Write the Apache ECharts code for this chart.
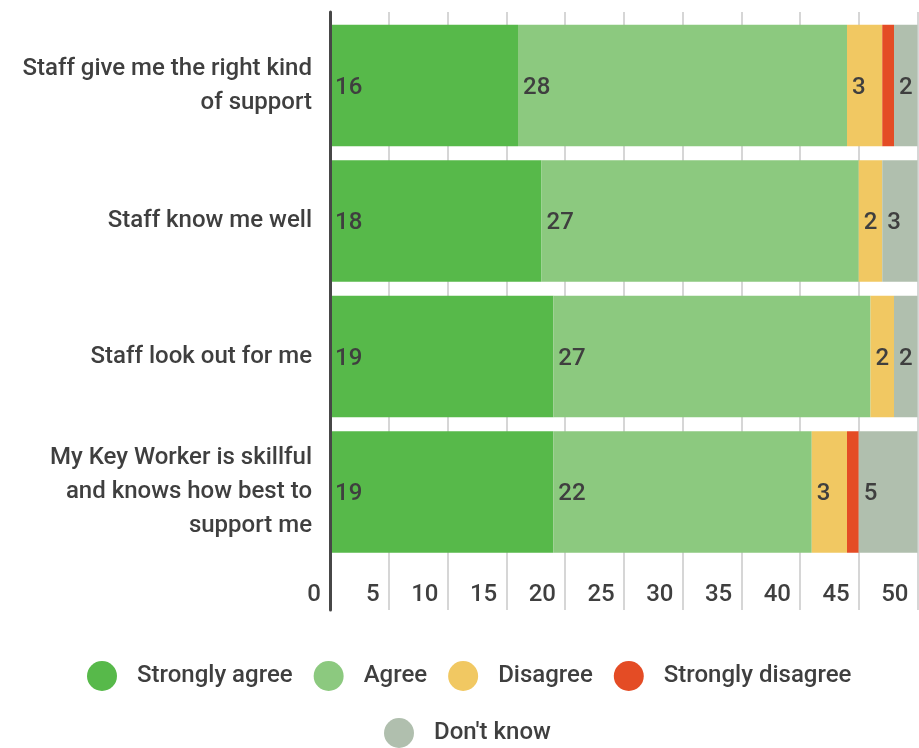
<!DOCTYPE html>
<html>
<head>
<meta charset="utf-8">
<script src="https://cdn.jsdelivr.net/npm/echarts@6/dist/echarts.min.js"></script>
<style>
  html, body { margin: 0; padding: 0; background: #fff; }
  #chart { width: 919px; height: 748px; }
</style>
</head>
<body>
<div id="chart"></div>
<script>
// Survey statements (top to bottom)
var categories = [
  'Staff give me the right kind\nof support',
  'Staff know me well',
  'Staff look out for me',
  'My Key Worker is skillful\nand knows how best to\nsupport me'
];

// Response counts per statement
var strongAgree    = [16, 18, 19, 19];
var agree          = [28, 27, 27, 22];
var disagree       = [3, 2, 2, 3];
var strongDisagree = [1, 0, 0, 1];
var dontKnow       = [2, 3, 2, 5];

// Value axis ticks
var axisTicks = [0, 5, 10, 15, 20, 25, 30, 35, 40, 45, 50];

var seriesNames  = ['Strongly agree', 'Agree', 'Disagree', 'Strongly disagree', "Don't know"];
var seriesColors = ['#57b94a', '#8cc97f', '#f1c862', '#e44c25', '#b0bfae'];
var seriesData   = [strongAgree, agree, disagree, strongDisagree, dontKnow];
var showLabel    = [true, true, true, false, true];

var FONT = 'Roboto, "Noto Sans", sans-serif';
var TEXT = '#3f3f3f';
var SIZE = 24;

var chart = echarts.init(document.getElementById('chart'), null, { renderer: 'canvas' });

var series = seriesNames.map(function (name, i) {
  return {
    name: name,
    type: 'bar',
    stack: 'total',
    xAxisIndex: 0,
    yAxisIndex: 0,
    barCategoryGap: '10.4%',
    itemStyle: { color: seriesColors[i] },
    label: {
      show: showLabel[i],
      position: 'insideLeft',
      distance: 5,
      offset: [0, 2],
      color: TEXT,
      fontFamily: FONT,
      fontWeight: 500,
      fontSize: SIZE
    },
    emphasis: { disabled: true },
    data: seriesData[i]
  };
});

var tickMin = axisTicks[0];
var tickMax = axisTicks[axisTicks.length - 1];
var tickStep = axisTicks[1] - axisTicks[0];

var legendText = {
  color: TEXT,
  fontFamily: FONT,
  fontWeight: 500,
  fontSize: SIZE,
  padding: [0, 0, 0, 15]
};

var option = {
  animation: false,
  backgroundColor: '#ffffff',
  grid: [
    // bars
    { left: 330, right: 1.5, top: 17.75, height: 542, containLabel: false },
    // frame: gridlines, tick labels and the vertical axis line
    { left: 330, right: 1.5, top: 12, bottom: 138, containLabel: false }
  ],
  xAxis: [
    {
      gridIndex: 0, type: 'value', min: tickMin, max: tickMax, interval: tickStep,
      show: false
    },
    {
      gridIndex: 1, type: 'value', min: tickMin, max: tickMax, interval: tickStep,
      axisLine: { show: false },
      axisTick: { show: false },
      splitLine: { show: true, lineStyle: { color: '#d6d6d6', width: 2 } },
      axisLabel: {
        inside: true,
        margin: 3,
        align: 'right',
        padding: [0, 9, 0, 0],
        color: TEXT,
        fontFamily: FONT,
        fontWeight: 500,
        fontSize: SIZE,
        showMinLabel: true,
        showMaxLabel: true
      }
    }
  ],
  yAxis: [
    {
      gridIndex: 0, type: 'category', inverse: true, data: categories,
      axisLine: { show: false },
      axisTick: { show: false },
      splitLine: { show: false },
      axisLabel: {
        margin: 18,
        align: 'right',
        padding: [5, 0, 0, 0],
        color: TEXT,
        fontFamily: FONT,
        fontWeight: 500,
        fontSize: SIZE,
        lineHeight: 34
      }
    },
    {
      gridIndex: 1, type: 'value', min: 0, max: 1, z: 5,
      axisLine: { show: true, lineStyle: { color: '#474747', width: 3 } },
      axisTick: { show: false },
      axisLabel: { show: false },
      splitLine: { show: false }
    }
  ],
  legend: [
    {
      data: seriesNames.slice(0, 4),
      left: 82, top: 656,
      icon: 'circle', itemWidth: 30, itemHeight: 30, itemGap: 21,
      selectedMode: false,
      textStyle: legendText
    },
    {
      data: seriesNames.slice(4),
      left: 379, top: 713,
      icon: 'circle', itemWidth: 30, itemHeight: 30, itemGap: 21,
      selectedMode: false,
      textStyle: legendText
    }
  ],
  series: series
};

chart.setOption(option);
</script>
</body>
</html>
